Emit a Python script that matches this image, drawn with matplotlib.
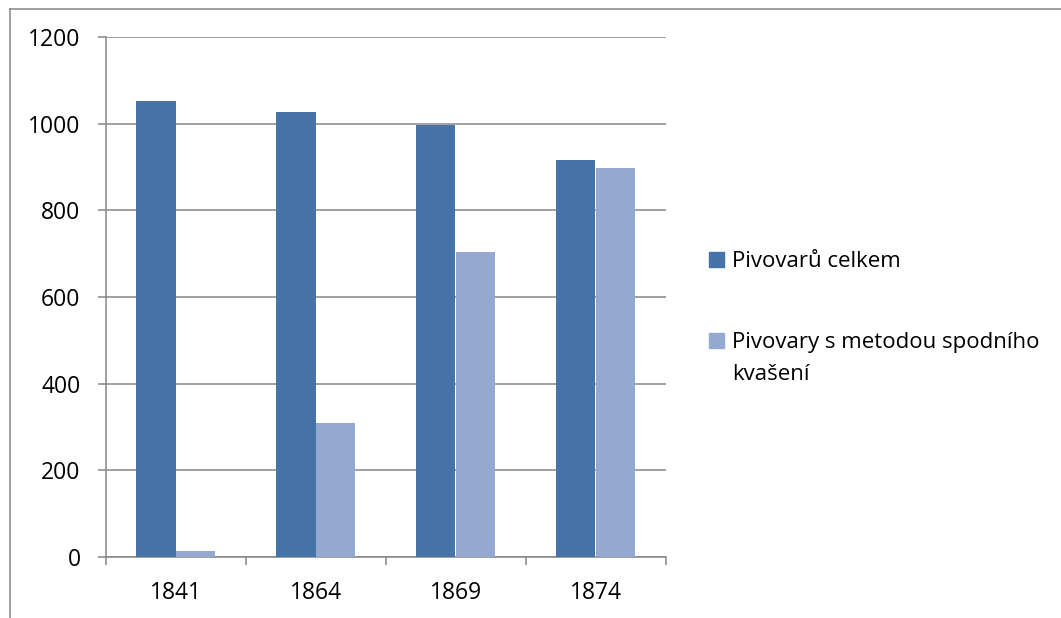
import matplotlib.pyplot as plt
import numpy as np
from matplotlib.lines import Line2D
from matplotlib.patches import Rectangle

# data
years = ["1841", "1864", "1869", "1874"]
celkem = [1052, 1026, 997, 917]
spodni = [15, 310, 705, 897]
series = ["Pivovarů celkem", "Pivovary s metodou spodního\nkvašení"]
colors = ["#4572A7", "#95A9D0"]
gray = "#868686"

plt.rcParams['font.family'] = ['Open Sans', 'DejaVu Sans']

W, H = 1061, 618
fig = plt.figure(figsize=(W / 100, H / 100), dpi=100)
ax = fig.add_axes([105.5 / W, 1 - 557 / H, 560 / W, 520 / H])

x = np.arange(len(years))
w = 0.285
ax.bar(x - w / 2, celkem, w, color=colors[0], zorder=3)
ax.bar(x + w / 2, spodni, w, color=colors[1], zorder=3)

ax.set_xlim(-0.5, len(years) - 0.5)
ax.set_ylim(0, 1200)
ax.set_yticks(range(0, 1201, 200))
ax.yaxis.grid(True, color=gray, linewidth=1.1, zorder=0)
ax.set_axisbelow(True)

for s in ["top", "right"]:
    ax.spines[s].set_visible(False)
for s in ["left", "bottom"]:
    ax.spines[s].set_color(gray)
    ax.spines[s].set_linewidth(1.1)

ax.tick_params(axis='y', length=6, width=1.1, color=gray, labelsize=16.5, pad=12)

# tick marks between categories, labels at the centres
ax.set_xticks(np.arange(-0.5, len(years), 1))
ax.set_xticklabels([])
ax.tick_params(axis='x', which='major', length=6, width=1.1, color=gray)
ax.set_xticks(x, minor=True)
ax.set_xticklabels(years, minor=True)
ax.tick_params(axis='x', which='minor', length=0, labelsize=16.5, pad=17)

# legend drawn by hand so the square sits next to the first line
items = [(252, [267]), (333, [348, 380])]
for (top, lines), name, c in zip(items, series, colors):
    fig.add_artist(Rectangle((709 / W, 1 - (top + 15) / H), 15 / W, 15 / H,
                             transform=fig.transFigure, color=c))
    for yb, txt in zip(lines, name.split("\n")):
        fig.text(732 / W, 1 - yb / H, txt, fontsize=16, va='baseline')

# outer chart frame (cut off at right and bottom)
fig.add_artist(Line2D([9.5 / W, 1], [1 - 9 / H, 1 - 9 / H], color=gray, linewidth=1.1))
fig.add_artist(Line2D([9.5 / W, 9.5 / W], [0, 1 - 9 / H], color=gray, linewidth=1.1))

fig.savefig("out.png", dpi=100)
